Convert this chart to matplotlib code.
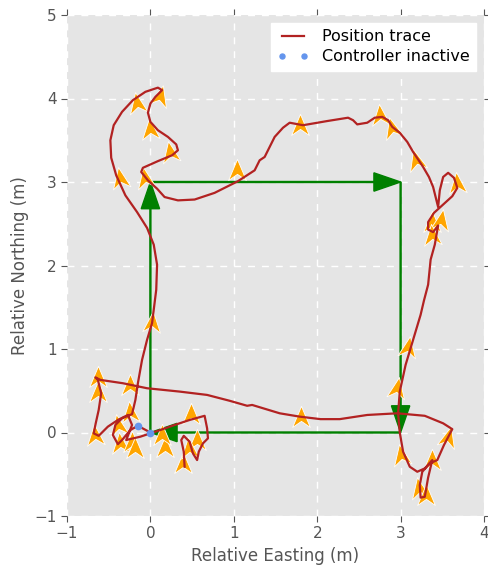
import matplotlib
matplotlib.use('Agg')
import matplotlib.pyplot as plt
from matplotlib.path import Path
from matplotlib.markers import MarkerStyle

# position trace (relative easting / northing, metres)
trace_x = [0.00, -0.15, -0.24, -0.34, -0.39, -0.45, -0.42, -0.34, -0.22, -0.18,
           -0.15, -0.10, -0.04, 0.02, 0.07, 0.08, 0.04, -0.04, -0.16, -0.30,
           -0.41, -0.47, -0.48, -0.44, -0.34, -0.21, -0.06, 0.09, 0.14, 0.06,
           0.00, -0.03, 0.00, 0.09, 0.21, 0.31, 0.33, 0.26, 0.09, -0.09,
           -0.11, -0.03, 0.08, 0.17, 0.33, 0.53, 0.77, 1.05, 1.25, 1.31,
           1.37, 1.43, 1.49, 1.59, 1.67, 1.83, 2.12, 2.37, 2.43, 2.48,
           2.60, 2.69, 2.78, 2.85, 2.90, 2.99, 3.08, 3.15, 3.27, 3.34,
           3.39, 3.45, 3.47, 3.51, 3.57, 3.64, 3.68, 3.62, 3.50, 3.40,
           3.33, 3.33, 3.39, 3.45, 3.41, 3.36, 3.33, 3.28, 3.24, 3.15,
           3.06, 2.99, 2.97, 2.99, 3.03, 3.11, 3.20, 3.29, 3.38, 3.33,
           3.29, 3.24, 3.23, 3.26, 3.35, 3.44, 3.52, 3.62, 3.51, 3.29,
           2.96, 2.60, 2.27, 2.04, 1.79, 1.55, 1.22, 1.16, 0.95, 0.68,
           0.35, -0.04, -0.33, -0.60, -0.66, -0.63, -0.59, -0.62, -0.66, -0.68,
           -0.62, -0.51, -0.39, -0.27, -0.22, -0.29, -0.12, 0.12, 0.29, 0.47,
           0.65, 0.68, 0.69, 0.63, 0.58, 0.56, 0.51, 0.47, 0.40, 0.37,
           0.40, 0.41]
trace_y = [0.00, 0.08, 0.03, -0.09, -0.14, -0.03, 0.09, 0.17, 0.22, 0.39,
           0.59, 0.87, 1.11, 1.31, 1.71, 2.01, 2.25, 2.45, 2.64, 2.84,
           3.08, 3.29, 3.50, 3.68, 3.84, 3.98, 4.08, 4.13, 4.10, 4.02,
           3.94, 3.83, 3.72, 3.62, 3.54, 3.45, 3.38, 3.32, 3.25, 3.17,
           3.12, 3.02, 2.92, 2.82, 2.78, 2.79, 2.87, 3.01, 3.14, 3.26,
           3.30, 3.42, 3.54, 3.65, 3.71, 3.68, 3.73, 3.77, 3.74, 3.69,
           3.71, 3.77, 3.78, 3.74, 3.66, 3.59, 3.48, 3.36, 3.18, 3.06,
           2.94, 2.70, 2.90, 3.06, 3.11, 3.05, 2.93, 2.83, 2.72, 2.63,
           2.52, 2.43, 2.40, 2.48, 2.25, 2.07, 1.77, 1.58, 1.41, 1.11,
           0.81, 0.49, 0.23, 0.00, -0.23, -0.41, -0.47, -0.43, -0.33, -0.54,
           -0.77, -0.78, -0.63, -0.47, -0.37, -0.33, -0.15, 0.04, 0.11, 0.20,
           0.23, 0.21, 0.16, 0.16, 0.19, 0.23, 0.33, 0.32, 0.38, 0.45,
           0.49, 0.53, 0.59, 0.63, 0.66, 0.63, 0.47, 0.27, 0.09, -0.01,
           -0.04, 0.07, 0.15, 0.21, 0.09, -0.09, -0.05, 0.03, 0.09, 0.15,
           0.20, 0.05, -0.07, -0.13, -0.23, -0.33, -0.25, -0.11, -0.04, -0.09,
           -0.23, -0.41]

# heading markers (position + heading angle in degrees, 0 = north)
head_x = [-0.16, 0.12, 0.00, 0.24, -0.37, -0.06, 1.04, 1.79, 2.75, 2.90,
          3.19, 3.68, 3.38, 3.48, 3.38, 3.09, 2.96, 1.81, 3.01, 3.57,
          3.38, 3.22, 3.31, 0.02, -0.63, -0.63, -0.24, -0.66, -0.39, -0.36,
          -0.22, -0.24, -0.18, 0.17, 0.39, 0.49, 0.56, 0.46, 0.14]
head_y = [3.95, 4.03, 3.64, 3.36, 3.05, 3.05, 3.14, 3.68, 3.80, 3.65,
          3.26, 2.99, 2.52, 2.55, 2.36, 1.02, 0.53, 0.19, -0.27, -0.05,
          -0.33, -0.66, -0.75, 1.32, 0.66, 0.49, 0.57, -0.03, 0.09, -0.13,
          -0.11, 0.24, -0.18, -0.17, -0.36, 0.22, -0.09, -0.19, -0.03]
head_deg = [10, -15, 5, 10, 10, 10, 0, 0, 5, 15,
            15, 5, 0, -10, 5, -10, -10, 0, 10, -15,
            0, 10, 0, -5, 0, 0, 0, 5, 10, 5,
            0, 5, 0, 0, 0, 0, 0, 5, 0]

# controller inactive samples
idle_x = [-0.15, 0.00]
idle_y = [0.08, 0.00]

# reference square
square_x = [0, 0, 3, 3, 0]
square_y = [0, 3, 3, 0, 0]

plt.rcParams['font.family'] = 'DejaVu Sans'
fig = plt.figure(figsize=(4.88, 5.65), dpi=100)
ax = fig.add_axes([67 / 488, 49 / 565, 417 / 488, 501 / 565])
ax.set_facecolor('#E5E5E5')
for s in ax.spines.values():
    s.set_visible(False)
ax.grid(True, color='white', linestyle='--', linewidth=1.0, dashes=(5, 5))
ax.set_axisbelow(True)

# green square with arrow heads at each corner
for i in range(4):
    x0, y0 = square_x[i], square_y[i]
    dx, dy = square_x[i + 1] - x0, square_y[i + 1] - y0
    ax.arrow(x0, y0, dx, dy, width=0.012, head_width=0.22, head_length=0.32,
             length_includes_head=True, color='green', zorder=2)

dart = Path([(0, 1), (0.8, -0.9), (0, -0.35), (-0.8, -0.9), (0, 1)],
            [Path.MOVETO, Path.LINETO, Path.LINETO, Path.LINETO, Path.CLOSEPOLY])
for x, y, d in zip(head_x, head_y, head_deg):
    ax.plot(x, y, linestyle='none', marker=MarkerStyle(dart).rotated(deg=d),
            markersize=16, markerfacecolor='orange', markeredgecolor='white',
            markeredgewidth=0.6, zorder=3)

ax.plot(trace_x, trace_y, color='#B22222', linewidth=1.6, zorder=4,
        label='Position trace')
ax.plot(idle_x, idle_y, linestyle='none', marker='o', markersize=4.5,
        color='#6495ED', markeredgecolor='#6495ED', zorder=5,
        label='Controller inactive')

ax.set_xlim(-1, 4)
ax.set_ylim(-1, 5)
ax.set_xticks([-1, 0, 1, 2, 3, 4])
ax.set_yticks([-1, 0, 1, 2, 3, 4, 5])
ax.tick_params(direction='out', color='#555555', labelcolor='#555555',
               labelsize=11, top=True, right=True, length=4)
ax.set_xlabel('Relative Easting (m)', fontsize=12, color='#555555')
ax.set_ylabel('Relative Northing (m)', fontsize=12, color='#555555')

leg = ax.legend(loc='upper right', numpoints=2, fontsize=11.5, frameon=True,
                fancybox=False, handlelength=2.0, labelspacing=0.3,
                borderaxespad=0.5, markerscale=0.8)
leg.get_frame().set_facecolor('white')
leg.get_frame().set_edgecolor('white')
leg.get_frame().set_alpha(1.0)

fig.savefig('out.png', dpi=100)
